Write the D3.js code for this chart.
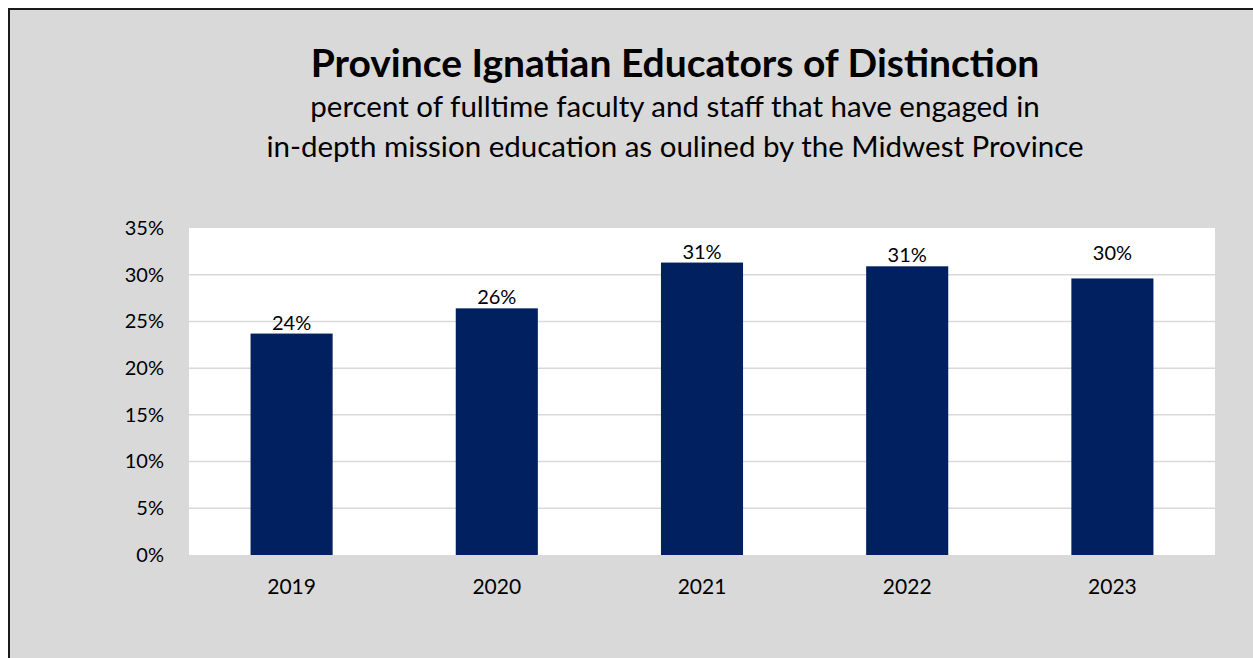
<!DOCTYPE html>
<meta charset="utf-8">
<style>
    body { margin: 0; background: #fff; }
    text { font-family: Lato, "Open Sans", sans-serif; fill: #000; }
</style>
<svg width="1253" height="658"></svg>
<script src="https://cdn.jsdelivr.net/npm/d3@7"></script>
<script>

    var years = ["2019", "2020", "2021", "2022", "2023"];
    var shares = [0.237, 0.264, 0.313, 0.309, 0.296];
    var yTicks = [0, 0.05, 0.10, 0.15, 0.20, 0.25, 0.30, 0.35];
    var title = "Province Ignatian Educators of Distinction";
    var subtitle = ["percent of fulltime faculty and staff that have engaged in",
                    "in-depth mission education as oulined by the Midwest Province"];

    var svg = d3.select("svg"),
        margin = {top: 228, right: 38, bottom: 103, left: 189},
        width = svg.attr("width") - margin.left - margin.right,
        height = svg.attr("height") - margin.top - margin.bottom;

    // grey chart area with the dark frame
    svg.append("rect")
        .attr("x", 9).attr("y", 9)
        .attr("width", 1260).attr("height", 670)
        .attr("fill", "#d9d9d9")
        .attr("stroke", "#1a1a1a")
        .attr("stroke-width", 2);

    svg.append("text")
        .attr("x", 675).attr("y", 77)
        .attr("text-anchor", "middle")
        .style("font-size", "39px")
        .style("font-weight", "bold")
        .text(title);

    svg.selectAll(".sub")
        .data(subtitle)
        .enter().append("text")
        .attr("class", "sub")
        .attr("x", 675)
        .attr("y", function(d, i) { return 117 + i * 40; })
        .attr("text-anchor", "middle")
        .style("font-size", "29.5px")
        .text(function(d) { return d; });

    var g = svg.append("g").attr("transform", "translate(" + margin.left + "," + margin.top + ")");

    var x = d3.scaleBand().domain(years).range([0, width]).paddingInner(0.6).paddingOuter(0.3),
        y = d3.scaleLinear().domain([0, 0.35]).range([height, 0]);

    g.append("rect")
        .attr("width", width)
        .attr("height", height)
        .attr("fill", "#fff");

    // gridlines
    g.selectAll(".grid")
        .data(yTicks.slice(1, -1))
        .enter().append("line")
        .attr("class", "grid")
        .attr("x1", 0).attr("x2", width)
        .attr("y1", function(d) { return y(d); })
        .attr("y2", function(d) { return y(d); })
        .attr("stroke", "#d9d9d9")
        .attr("stroke-width", 1.5);

    var yAxis = g.append("g")
        .attr("transform", "translate(-22,0)")
        .call(d3.axisLeft(y).tickValues(yTicks).tickFormat(d3.format(".0%")).tickSize(0));
    yAxis.select(".domain").remove();
    yAxis.selectAll("text").style("font-size", "20px").attr("font-family", null);

    var xAxis = g.append("g")
        .attr("transform", "translate(0," + height + ")")
        .call(d3.axisBottom(x).tickSize(0).tickPadding(24));
    xAxis.select(".domain").remove();
    xAxis.selectAll("text").style("font-size", "21px").attr("font-family", null);

    g.selectAll(".bar")
        .data(years)
        .enter().append("rect")
        .attr("class", "bar")
        .attr("x", function(d) { return x(d); })
        .attr("width", x.bandwidth())
        .attr("y", function(d, i) { return y(shares[i]); })
        .attr("height", function(d, i) { return height - y(shares[i]); })
        .attr("fill", "#002060");

    // the last label sits a little higher in the original
    var nudge = {"2023": -14};
    g.selectAll(".lbl")
        .data(years)
        .enter().append("text")
        .attr("class", "lbl")
        .attr("x", function(d) { return x(d) + x.bandwidth() / 2; })
        .attr("y", function(d, i) { return y(shares[i]) - 4 + (nudge[d] || 0); })
        .attr("text-anchor", "middle")
        .style("font-size", "20px")
        .text(function(d, i) { return d3.format(".0%")(shares[i]); });

</script>
